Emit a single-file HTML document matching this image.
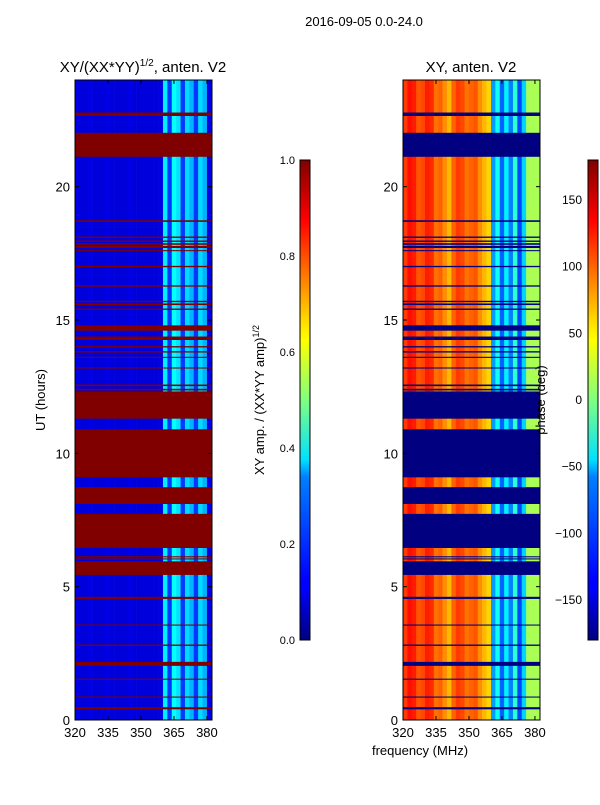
<!DOCTYPE html>
<html><head><meta charset="utf-8"><style>
html,body{margin:0;padding:0;background:#fff;}
svg text{font-family:"Liberation Sans",sans-serif;fill:#000;}
</style></head><body>
<svg id="fig" width="600" height="800" viewBox="0 0 600 800" xmlns="http://www.w3.org/2000/svg">
<defs>
<linearGradient id="jet" x1="0" y1="1" x2="0" y2="0">
<stop offset="0" stop-color="#000080"/><stop offset="0.11" stop-color="#0000ff"/>
<stop offset="0.125" stop-color="#0000ff"/><stop offset="0.34" stop-color="#0080ff"/>
<stop offset="0.375" stop-color="#00e0ff"/><stop offset="0.5" stop-color="#80ff80"/>
<stop offset="0.625" stop-color="#ffff00"/><stop offset="0.66" stop-color="#ffe000"/>
<stop offset="0.875" stop-color="#ff0000"/><stop offset="1" stop-color="#800000"/>
</linearGradient>
</defs>
<text x="364" y="26" font-size="13" text-anchor="middle">2016-09-05 0.0-24.0</text>
<text x="143" y="72" font-size="15" text-anchor="middle">XY/(XX*YY)<tspan font-size="10" dy="-6">1/2</tspan><tspan dy="6">, anten. V2</tspan></text>
<text x="471" y="72" font-size="15" text-anchor="middle">XY, anten. V2</text>
<g id="left"></g>
<g id="right"></g>
<g id="axes"></g>
<text x="45" y="400" font-size="13" text-anchor="middle" transform="rotate(-90 45 400)">UT (hours)</text>
<text x="420" y="755" font-size="13" text-anchor="middle">frequency (MHz)</text>
<rect x="300" y="160" width="10" height="480" fill="url(#jet)" stroke="#000" stroke-width="1"/>
<rect x="588" y="160" width="10" height="480" fill="url(#jet)" stroke="#000" stroke-width="1"/>
<text x="264" y="400" font-size="13" text-anchor="middle" transform="rotate(-90 264 400)">XY amp. / (XX*YY amp)<tspan font-size="9" dy="-5">1/2</tspan></text>
<text x="545" y="400" font-size="13" text-anchor="middle" transform="rotate(-90 545 400)">phase (deg)</text>
</svg>
<script>
const freqBins=[320,322,324,326,328,330,332,334,336,338,340,342,344,346,348,350,352,354,356,358,360,362,364,366,368,370,372,374,376,378,380];
const ampValues=[0.1,0.09,0.09,0.1,0.09,0.09,0.09,0.1,0.09,0.09,0.09,0.09,0.1,0.09,0.09,0.09,0.09,0.09,0.09,0.1,0.36,0.18,0.38,0.35,0.18,0.34,0.3,0.18,0.34,0.3,0.1];
const phaseValues=[115,130,125,105,110,125,120,95,100,85,70,100,115,110,95,100,105,85,70,60,-80,-40,-100,-50,-90,-30,-110,-60,15,15,15];
const flagBands=[[22.65,22.78],[21.12,22.02],[18.68,18.74],[18.08,18.13],[17.93,17.98],[17.82,17.88],[17.7,17.78],[17.58,17.62],[16.98,17.03],[16.25,16.3],[15.67,15.72],[15.56,15.62],[15.38,15.43],[14.6,14.8],[14.25,14.38],[13.97,14.02],[13.78,13.83],[13.58,13.62],[13.18,13.22],[12.52,12.58],[12.36,12.42],[11.3,12.32],[9.1,10.9],[8.1,8.73],[6.45,7.73],[6.1,6.14],[6.02,6.06],[5.44,5.95],[4.54,4.62],[3.54,3.58],[2.78,2.83],[2.03,2.18],[1.51,1.55],[0.84,0.88],[0.4,0.48]];
const ampTicks=[0,0.2,0.4,0.6,0.8,1.0];
const ampTickLabels=["0.0","0.2","0.4","0.6","0.8","1.0"];
const phaseTicks=[-150,-100,-50,0,50,100,150];
const phaseTickLabels=["\u2212150","\u2212100","\u221250","0","50","100","150"];
const hourTicks=[0,5,10,15,20];
const freqTicks=[320,335,350,365,380];

const NS="http://www.w3.org/2000/svg";
const X0L=75,X0R=403,PW=137,Y0=720,PH=640,FMIN=320,FMAX=382.3,TMAX=24;
function xScale(f,x0){return x0+(f-FMIN)/(FMAX-FMIN)*PW;}
function yScale(h){return Y0-h/TMAX*PH;}
function ampC(v){return 640-v*480;}
function phC(p){return 400-p/180*240;}
function cl(v){return Math.max(0,Math.min(1,v));}
function jet(v){
  const r=cl(Math.min(4*v-1.5,-4*v+4.5)),g=cl(Math.min(4*v-0.5,-4*v+3.5)),b=cl(Math.min(4*v+0.5,-4*v+2.5));
  return `rgb(${Math.round(r*255)},${Math.round(g*255)},${Math.round(b*255)})`;
}
function mk(tag,parent,attrs){const e=document.createElementNS(NS,tag);for(const k in attrs)e.setAttribute(k,attrs[k]);parent.appendChild(e);return e;}

const L=document.getElementById('left'),R=document.getElementById('right'),A=document.getElementById('axes');
freqBins.forEach((f,i)=>{
  const f2=i<freqBins.length-1?freqBins[i+1]:FMAX;
  let r=mk('rect',L,{x:xScale(f,X0L),y:yScale(TMAX),width:xScale(f2,X0L)-xScale(f,X0L)+0.3,height:PH,fill:jet(ampValues[i])});
  
  
  let q=mk('rect',R,{x:xScale(f,X0R),y:yScale(TMAX),width:xScale(f2,X0R)-xScale(f,X0R)+0.3,height:PH,fill:jet((phaseValues[i]+180)/360)});
  
  
});
flagBands.forEach(b=>{
  const y=yScale(b[1]),h=Math.max(1,yScale(b[0])-yScale(b[1]));
  let r=mk('rect',L,{x:X0L,y:y,width:PW,height:h,fill:'#800000'});
  
  
  let q=mk('rect',R,{x:X0R,y:y,width:PW,height:h,fill:'#000080'});
  
  
});
[X0L,X0R].forEach(x0=>{
  let f=mk('rect',A,{x:x0,y:80,width:PW,height:PH,fill:'none',stroke:'#000','stroke-width':1});
  
  
  hourTicks.forEach(h=>{
    const y=yScale(h);
    mk('line',A,{x1:x0,x2:x0+4,y1:y,y2:y,stroke:'#000'});
    mk('line',A,{x1:x0+PW-4,x2:x0+PW,y1:y,y2:y,stroke:'#000'});
    let t=mk('text',A,{x:x0-5,y:y+5,'font-size':13,'text-anchor':'end'});t.textContent=h;
    
    
  });
  freqTicks.forEach(fr=>{
    const x=xScale(fr,x0);
    mk('line',A,{x1:x,x2:x,y1:Y0,y2:Y0-4,stroke:'#000'});
    mk('line',A,{x1:x,x2:x,y1:80,y2:84,stroke:'#000'});
    let t=mk('text',A,{x:x,y:737,'font-size':13,'text-anchor':'middle'});t.textContent=fr;
    
    
  });
});
ampTicks.forEach((v,i)=>{
  const y=ampC(v);
  mk('line',A,{x1:300,x2:303,y1:y,y2:y,stroke:'#000'});mk('line',A,{x1:307,x2:310,y1:y,y2:y,stroke:'#000'});
  let t=mk('text',A,{x:295,y:y+4,'font-size':11,'text-anchor':'end'});t.textContent=ampTickLabels[i];
  
  
});
phaseTicks.forEach((v,i)=>{
  const y=phC(v);
  mk('line',A,{x1:588,x2:591,y1:y,y2:y,stroke:'#000'});mk('line',A,{x1:595,x2:598,y1:y,y2:y,stroke:'#000'});
  let t=mk('text',A,{x:582,y:y+4,'font-size':12,'text-anchor':'end'});t.textContent=phaseTickLabels[i];
  
  
});
</script>
</body></html>
